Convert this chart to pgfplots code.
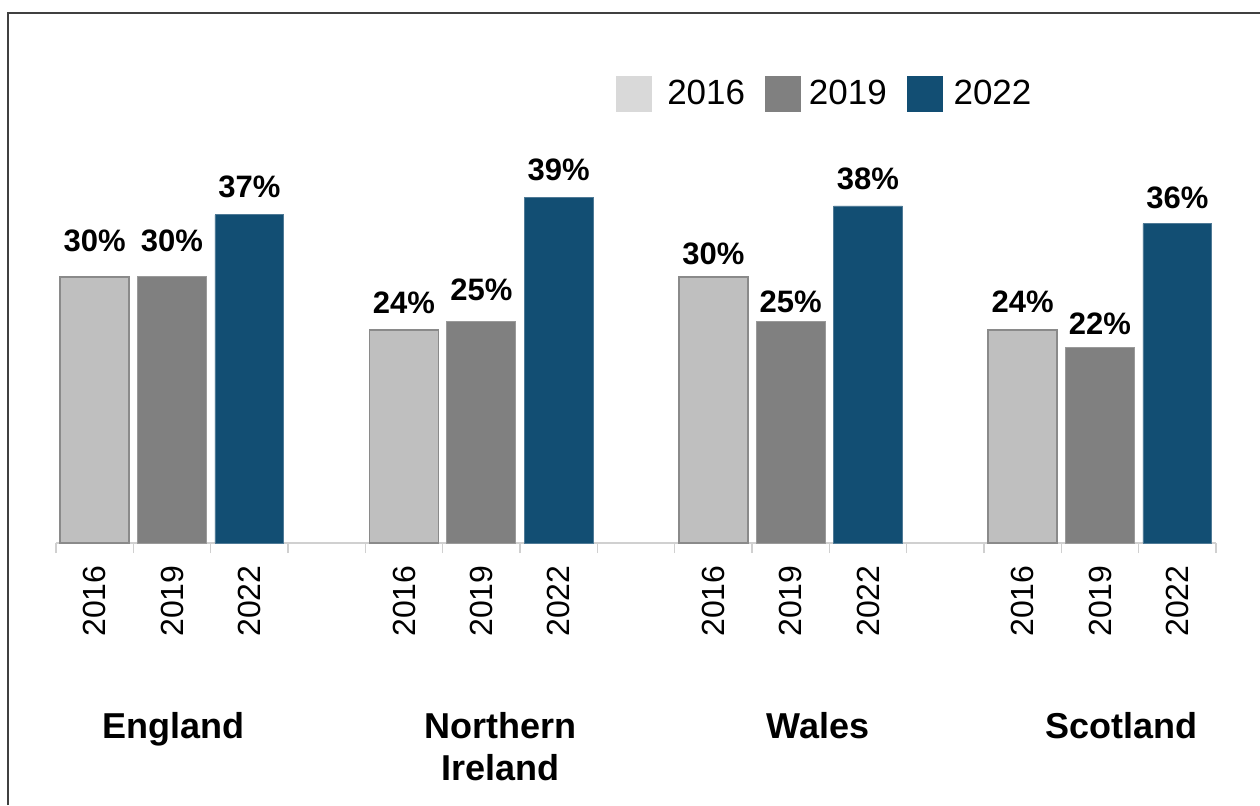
\documentclass[border=0pt]{standalone}
\usepackage{pgfplots}
\pgfplotsset{compat=1.18}
\usepackage{fontspec}
\setmainfont{Liberation Sans}

\definecolor{c16}{HTML}{BFBFBF}
\definecolor{c16edge}{HTML}{8A8A8A}
\definecolor{c16leg}{HTML}{D9D9D9}
\definecolor{c19}{HTML}{808080}
\definecolor{c19edge}{HTML}{9A9A9A}
\definecolor{c22}{HTML}{124E73}
\definecolor{c22edge}{HTML}{4F7A96}
\definecolor{axisgrey}{HTML}{D0D0D0}

\begin{document}
\begin{tikzpicture}
\useasboundingbox (0,0) rectangle (630pt,402.5pt);
\draw[line width=1.1pt, color=black!75] (4pt,0pt) -- (4pt,396pt) -- (630pt,396pt);
\begin{axis}[
    at={(28pt,131pt)}, anchor=south west,
    scale only axis, width=580pt, height=221.75pt,
    xmin=0, xmax=15, ymin=0, ymax=50,
    axis x line*=bottom, axis y line=none,
    x axis line style={axisgrey, line width=0.8pt},
    ybar, bar width=0.89, bar shift=0pt,
    xtick={0.5,1.5,2.5,4.5,5.5,6.5,8.5,9.5,10.5,12.5,13.5,14.5},
    xticklabels={2016,2019,2022,2016,2019,2022,2016,2019,2022,2016,2019,2022},
    major tick length=0pt,
    minor xtick={0,1,...,15},
    minor tick length=5pt,
    tick align=outside,
    tick style={axisgrey, line width=0.6pt},
    xticklabel style={rotate=90, anchor=east, inner sep=0pt, font=\fontsize{16}{19}\selectfont},
    xticklabel shift=11pt,
    visualization depends on={\thisrow{dy} \as \labeldy},
    nodes near coords={\pgfmathprintnumber[assume math mode=true]{\pgfplotspointmeta}\%},
    nodes near coords style={anchor=base, inner sep=0pt, yshift=\labeldy pt,
        font=\bfseries\fontsize{15.5}{18}\selectfont, text=black},
    clip=false,
    legend columns=3,
    legend style={draw=none, fill=none, at={(0.4828,1.0124)}, anchor=west,
        inner sep=0pt, font=\fontsize{17.5}{21}\selectfont,
        /tikz/every even column/.append style={column sep=8pt}},
    legend cell align=left,
]
\addlegendimage{legend image code/.code={\fill[c16leg] (0pt,-8.75pt) rectangle (17.5pt,8.75pt); \path (23pt,0pt);}}
\addlegendentry{2016}
\addlegendimage{legend image code/.code={\fill[c19] (0pt,-8.75pt) rectangle (17.5pt,8.75pt); \path (19.5pt,0pt);}}
\addlegendentry{2019}
\addlegendimage{legend image code/.code={\fill[c22] (0pt,-8.75pt) rectangle (17.5pt,8.75pt); \path (21pt,0pt);}}
\addlegendentry{2022}

% 2016 (dy = label gap above bar, pt)
\addplot[fill=c16, draw=c16edge, line width=0.8pt, forget plot] table {
x    y  dy
0.5  30 12.8
4.5  24 8.4
8.5  30 6.2
12.5 24 9.0
};
% 2019
\addplot[fill=c19, draw=c19edge, line width=0.5pt, forget plot] table {
x    y  dy
1.5  30 12.8
5.5  25 10.2
9.5  25 4.5
13.5 22 6.7
};
% 2022
\addplot[fill=c22, draw=c22edge, line width=0.4pt, forget plot] table {
x    y  dy
2.5  37 8.7
6.5  39 8.4
10.5 38 8.4
14.5 36 7.5
};

\begin{scope}[every node/.style={anchor=north, inner sep=0pt, align=center,
        font=\bfseries\fontsize{18}{21}\selectfont, yshift=-84.5pt}]
\node at (axis cs:1.513,0) {England};
\node at (axis cs:5.742,0) {Northern\\Ireland};
\node at (axis cs:9.854,0) {Wales};
\node at (axis cs:13.772,0) {Scotland};
\end{scope}
\end{axis}
\end{tikzpicture}
\end{document}
